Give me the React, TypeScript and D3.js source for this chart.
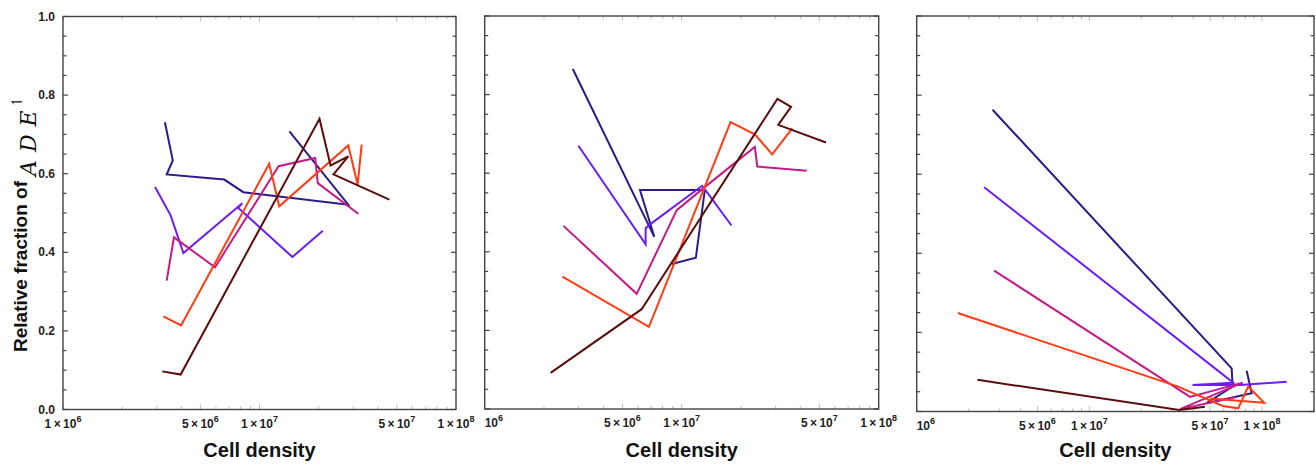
import React from "react";
import * as d3 from "d3";

// ---- data: [cell density, relative fraction] ----
const seriesColors = ["#2b1b86", "#6b1cf7", "#c41a87", "#ff3c12", "#5c0c0c"];

const p1Navy = [[3.30e6,0.731],[3.62e6,0.634],[3.37e6,0.598],[6.62e6,0.585],[8.27e6,0.553],[2.83e7,0.521],[1.42e7,0.708]];
const p1Violet = [[2.94e6,0.566],[3.53e6,0.494],[4.10e6,0.398],[8.17e6,0.525],[7.80e6,0.513],[1.47e7,0.388],[2.10e7,0.455]];
const p1Magenta = [[3.37e6,0.328],[3.67e6,0.438],[5.94e6,0.362],[1.25e7,0.619],[1.92e7,0.640],[1.98e7,0.576],[3.18e7,0.498]];
const p1Orange = [[3.24e6,0.237],[3.99e6,0.214],[1.12e7,0.625],[1.26e7,0.517],[2.83e7,0.672],[3.16e7,0.572],[3.31e7,0.674]];
const p1DarkRed = [[3.20e6,0.097],[3.97e6,0.089],[2.02e7,0.740],[2.30e7,0.621],[2.83e7,0.644],[2.38e7,0.598],[4.58e7,0.534]];

const p2Navy = [[2.80e6,0.865],[7.26e6,0.438],[6.14e6,0.557],[1.31e7,0.557],[1.18e7,0.385],[8.90e6,0.369]];
const p2Violet = [[2.99e6,0.670],[6.56e6,0.419],[6.56e6,0.460],[6.96e6,0.471],[1.27e7,0.568],[1.32e7,0.557],[1.79e7,0.467]];
const p2Magenta = [[2.51e6,0.466],[5.91e6,0.293],[9.44e6,0.506],[1.29e7,0.562],[2.35e7,0.667],[2.42e7,0.617],[4.31e7,0.606]];
const p2Orange = [[2.48e6,0.337],[6.82e6,0.209],[1.77e7,0.730],[2.35e7,0.699],[2.88e7,0.648],[3.64e7,0.714]];
const p2DarkRed = [[2.16e6,0.092],[6.26e6,0.254],[3.06e7,0.789],[3.59e7,0.769],[3.09e7,0.723],[5.40e7,0.678]];

const p3Navy = [[2.75e6,0.763],[6.67e7,0.109],[6.76e7,0.063],[4.78e7,0.021],[8.71e7,0.046],[8.15e7,0.103]];
const p3Violet = [[2.46e6,0.567],[6.81e7,0.073],[3.96e7,0.067],[7.45e7,0.067],[1.39e8,0.075]];
const p3Magenta = [[2.81e6,0.356],[3.83e7,0.037],[7.73e7,0.073],[3.35e7,0.006],[6.97e7,0.036]];
const p3Orange = [[1.73e6,0.249],[3.27e7,0.063],[5.92e7,0.014],[7.28e7,0.008],[8.32e7,0.063],[1.03e8,0.022],[4.99e7,0.033]];
const p3DarkRed = [[2.25e6,0.080],[3.32e7,0.004],[4.67e7,0.012]];

const xTickValues = [1e6, 5e6, 1e7, 5e7, 1e8];
const xTickMantissa = ["1", "5", "1", "5", "1"];
const xTickExponent = ["6", "6", "7", "7", "8"];
const yTickValues = [0, 0.2, 0.4, 0.6, 0.8, 1.0];
const yTickLabels = ["0.0", "0.2", "0.4", "0.6", "0.8", "1.0"];
const xAxisTitle = "Cell density";
const yAxisTitle = "Relative fraction of";

const panelSeries = [
  [p1Navy, p1Violet, p1Magenta, p1Orange, p1DarkRed],
  [p2Navy, p2Violet, p2Magenta, p2Orange, p2DarkRed],
  [p3Navy, p3Violet, p3Magenta, p3Orange, p3DarkRed],
];

// layout
const panels = [
  { left: 63, right: 456, top: 16.5, bottom: 409.5, xMax: 1e8, showY: true, firstShort: false },
  { left: 484.7, right: 878.7, top: 16, bottom: 409, xMax: 1e8, showY: false, firstShort: true },
  { left: 916.7, right: 1314, top: 16, bottom: 411.5, xMax: 2e8, showY: false, firstShort: true },
];

const sans = "'Liberation Sans', Arial, Helvetica, sans-serif";
const serif = "'DejaVu Serif', 'Liberation Serif', serif";

function Panel({ cfg, series }) {
  const x = d3.scaleLog().domain([1e6, cfg.xMax]).range([cfg.left, cfg.right]);
  const y = d3.scaleLinear().domain([0, 1]).range([cfg.bottom, cfg.top]);
  const line = d3.line().x((d) => x(d[0])).y((d) => y(d[1]));

  const minorX = [];
  for (let e = 6; e <= 8; e++) {
    for (let m = 1; m <= 9; m++) {
      const v = m * Math.pow(10, e);
      if (v >= 1e6 && v <= cfg.xMax) minorX.push(v);
    }
  }
  const yTicks = d3.range(0, 1.0001, 0.05);
  const isMajorY = (v) => Math.abs(v * 5 - Math.round(v * 5)) < 1e-6;

  return (
    <g>
      {minorX.map((v, i) => {
        const major = xTickValues.includes(v);
        const len = major ? 5 : 3;
        return (
          <g key={"xt" + i} stroke="#bbbbbb" strokeWidth={1}>
            <line x1={x(v)} x2={x(v)} y1={cfg.bottom} y2={cfg.bottom - len} />
            <line x1={x(v)} x2={x(v)} y1={cfg.top} y2={cfg.top + len} />
          </g>
        );
      })}
      {yTicks.map((v, i) => {
        const len = isMajorY(v) ? 5 : 3.5;
        return (
          <g key={"yt" + i} stroke="#444" strokeWidth={1.2}>
            <line x1={cfg.left} x2={cfg.left + len} y1={y(v)} y2={y(v)} />
            <line x1={cfg.right} x2={cfg.right - len} y1={y(v)} y2={y(v)} />
          </g>
        );
      })}
      {series.map((s, i) => (
        <path key={"s" + i} d={line(s)} fill="none" stroke={seriesColors[i]} strokeWidth={2} strokeLinejoin="miter" />
      ))}
      <rect x={cfg.left} y={cfg.top} width={cfg.right - cfg.left} height={cfg.bottom - cfg.top} fill="none" stroke="#444" strokeWidth={1.4} />
      {xTickValues.map((v, i) => {
        const short = i === 0 && cfg.firstShort;
        return (
          <text key={"xl" + i} x={short ? cfg.left : x(v)} y={cfg.bottom + 18} textAnchor={short ? "start" : "middle"}
            fontFamily={sans} fontWeight="bold" fontSize={12} fill="#222">
            {short ? "10" : xTickMantissa[i] + "\u2009\u00d7\u200910"}
            <tspan fontSize={9} dy={-6}>{xTickExponent[i]}</tspan>
          </text>
        );
      })}
      <text x={(cfg.left + cfg.right) / 2} y={457} textAnchor="middle" fontFamily={sans} fontWeight="bold" fontSize={20} fill="#111">
        {xAxisTitle}
      </text>
      {cfg.showY &&
        yTickValues.map((v, i) => (
          <text key={"yl" + i} x={cfg.left - 8} y={y(v) + 4} textAnchor="end" fontFamily={sans} fontWeight="bold" fontSize={12} fill="#222">
            {yTickLabels[i]}
          </text>
        ))}
    </g>
  );
}

export default function App() {
  React.useEffect(() => {
    document.body.style.margin = "0";
  }, []);
  return (
    <svg width={1316} height={466} style={{ position: "absolute", left: 0, top: 0, background: "#fff" }}>
      <rect x={0} y={0} width={1316} height={466} fill="#fff" />
      {panels.map((cfg, i) => (
        <Panel key={i} cfg={cfg} series={panelSeries[i]} />
      ))}
      <g transform="translate(27,352) rotate(-90)">
        <text x={0} y={0} fontFamily={sans} fontWeight="bold" fontSize={19} fill="#111">
          {yAxisTitle}
          <tspan fontFamily={serif} fontStyle="italic" fontWeight="normal" fontSize={22} dx={5} dy={9} letterSpacing={8}>ADE</tspan>
          <tspan fontFamily={serif} fontWeight="normal" fontSize={15} dx={-6} dy={-14}>{"\u21bf"}</tspan>
        </text>
      </g>
    </svg>
  );
}
